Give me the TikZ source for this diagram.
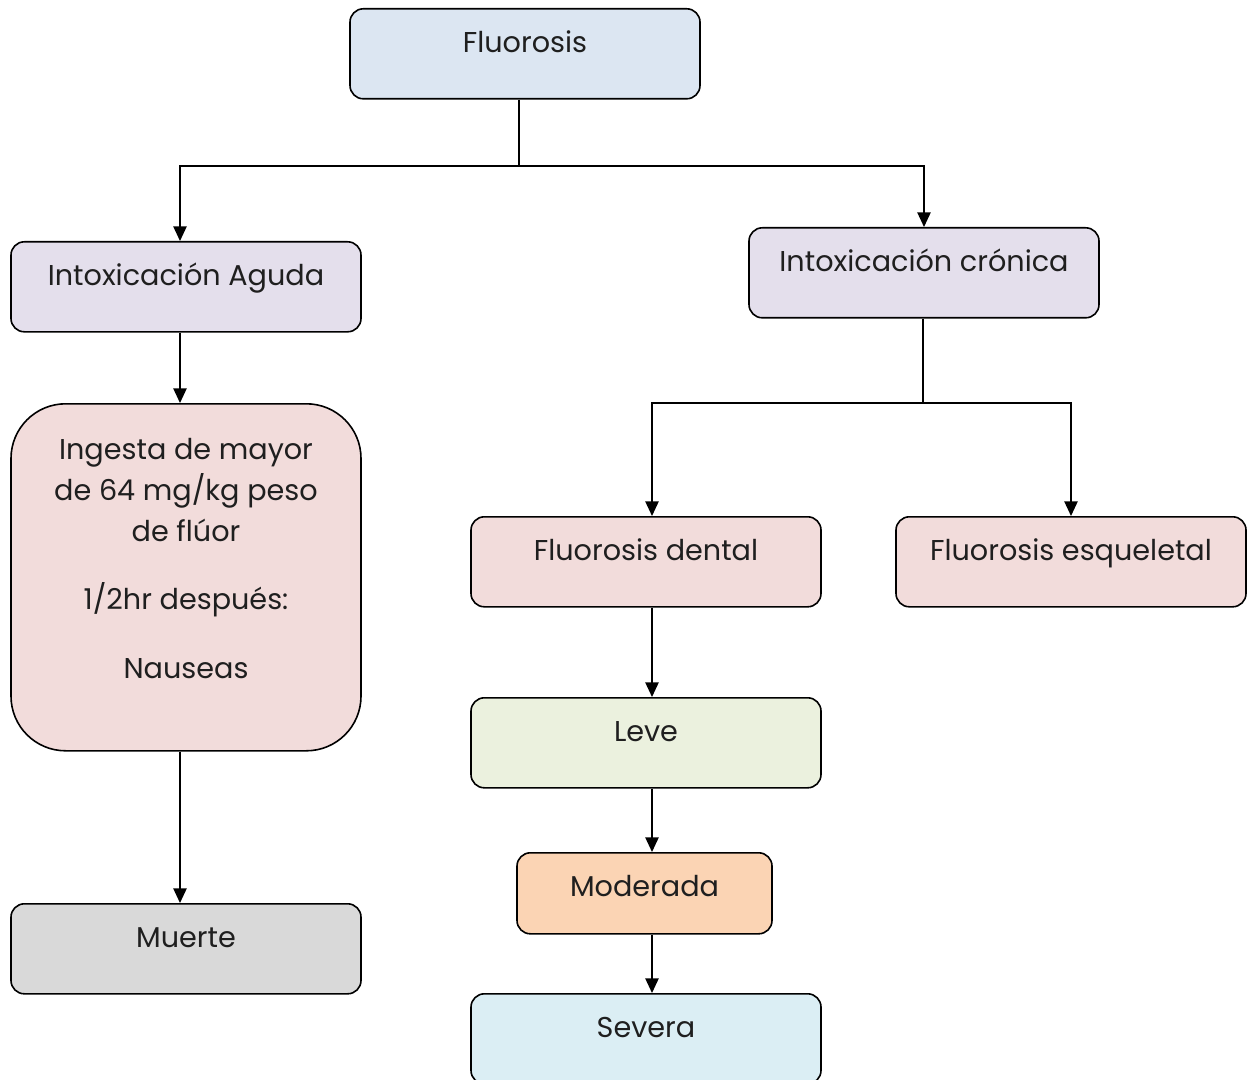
\documentclass[tikz,border=0pt]{standalone}
\usepackage{fontspec}
\setmainfont{Poppins}
\usepackage{xcolor}
\definecolor{flutop}{HTML}{DCE6F2}
\definecolor{fluint}{HTML}{E4DFEC}
\definecolor{flupink}{HTML}{F2DCDB}
\definecolor{flugrn}{HTML}{EBF1DE}
\definecolor{fluorg}{HTML}{FBD4B4}
\definecolor{flusky}{HTML}{DBEEF4}
\definecolor{flugry}{HTML}{D9D9D9}
\usepackage{tikz}
\usetikzlibrary{arrows.meta,calc}

\tikzset{
  fbox/.style={draw,line width=1.2pt,rounded corners=10pt,anchor=north,
    minimum width=262.5pt,inner sep=0pt,text height=33pt,text depth=34.5pt},
  farr/.style={line width=1.1pt,-{Triangle[length=11pt,width=10pt]}},
  fline/.style={line width=1.1pt}
}

\begin{document}
\begin{tikzpicture}[x=0.75pt,y=-0.75pt,font=\fontsize{21.5}{30.5}\selectfont,text=black!88]
\useasboundingbox (0,0) rectangle (1248,1080);
% top
\node[fbox,fill=flutop] (fluo) at (525,8) {Fluorosis};
\node[fbox,fill=fluint] (aguda) at (186,241) {Intoxicación Aguda};
\node[fbox,fill=fluint] (cronica) at (924,227) {Intoxicación crónica};
% acute branch
\node[draw,line width=1.2pt,rounded corners=41pt,fill=flupink,anchor=north,inner sep=0pt] (ingesta) at (186,403)
  {\parbox[c][260.25pt][t]{262.5pt}{\centering
   \rule{0pt}{42pt}Ingesta de mayor\\de 64 mg/kg peso\\de flúor\par\vspace{21pt}
   1/2hr después:\par\vspace{21pt}
   Nauseas}};
\node[fbox,fill=flugry] (muerte) at (186,903) {Muerte};
% chronic branch
\node[fbox,fill=flupink] (dental) at (646,516) {Fluorosis dental};
\node[fbox,fill=flupink] (esq) at (1071,516) {Fluorosis esqueletal};
\node[fbox,fill=flugrn] (leve) at (646,697) {Leve};
\node[fbox,fill=fluorg,minimum width=191.25pt,text depth=27.75pt] (moderada) at (644.5,852) {Moderada};
\node[fbox,fill=flusky] (severa) at (646,993) {Severa};

\coordinate (s1) at (519,166);
\coordinate (s2) at (923,403);
\draw[fline] (fluo.south -| s1) -- (s1);
\draw[farr] (s1) -| ($(aguda.north)+(-6,0)$);
\draw[farr] (s1) -| (cronica.north);
\draw[farr] ($(aguda.south)+(-6,0)$) -- ($(ingesta.north)+(-6,0)$);
\draw[farr] ($(ingesta.south)+(-6,0)$) -- ($(muerte.north)+(-6,0)$);
\draw[fline] (cronica.south -| s2) -- (s2);
\draw[farr] (s2) -| ($(dental.north)+(6,0)$);
\draw[farr] (s2) -| (esq.north);
\draw[farr] ($(dental.south)+(6,0)$) -- ($(leve.north)+(6,0)$);
\draw[farr] ($(leve.south)+(6,0)$) -- ($(moderada.north)+(7.5,0)$);
\draw[farr] ($(moderada.south)+(7.5,0)$) -- ($(severa.north)+(6,0)$);
\end{tikzpicture}
\end{document}
